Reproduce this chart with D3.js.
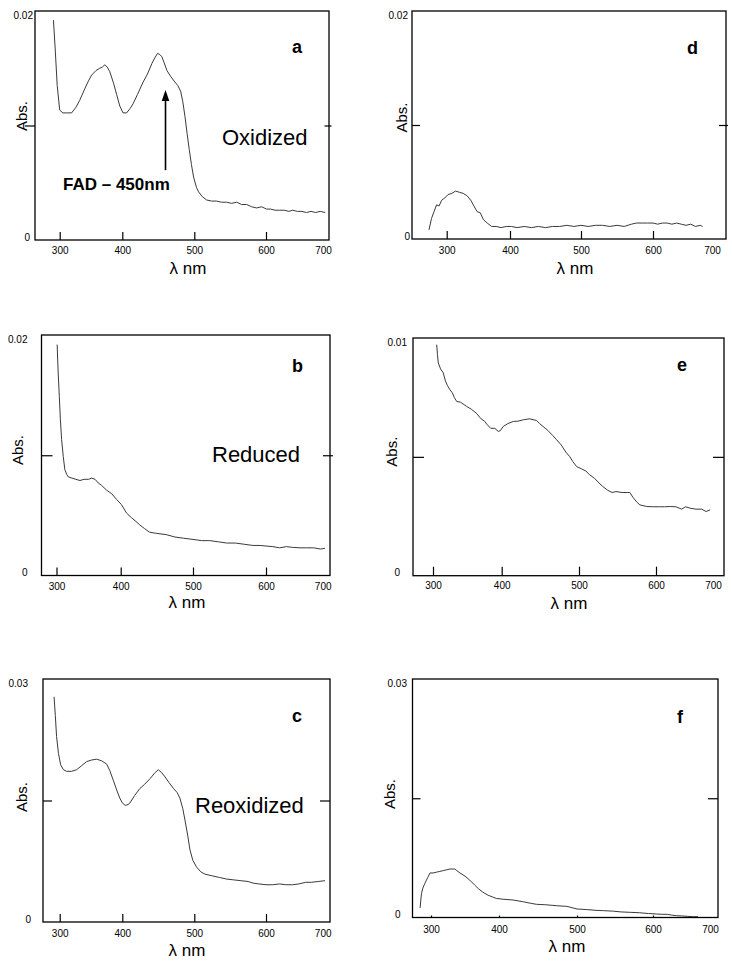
<!DOCTYPE html>
<html>
<head>
<meta charset="utf-8">
<script src="https://cdn.jsdelivr.net/npm/d3@7"></script>
<style>
  html, body { margin: 0; padding: 0; background: #fff; }
  svg { display: block; }
</style>
</head>
<body>
<script>
// ---------------- DATA ----------------
const wlTicks = [300, 400, 500, 600, 700];
const xTickMarks = [300, 400, 500, 600];

// Panel a: Oxidized
const aWl  = [290,293,296,300,305,311,319,326,332,340,346,351,358,364,368,372,376,380,386,391,396,401,406,411,415,421,429,435,441,445,449,452,455,458,462,467,473,477,481,484,487,490,493,496,499,503,506,511,517,524,531,538,545,552,559,566,573,580,587,594,601,608,616,624,632,640,647,655,663,671,679,687,695,704];
const aAbs = [0.0192,0.0165,0.0135,0.01135,0.0111,0.0111,0.0111,0.0116,0.0122,0.0132,0.0139,0.0144,0.0148,0.0150,0.0151,0.0153,0.0151,0.0147,0.0137,0.0127,0.0117,0.0111,0.0111,0.0115,0.0119,0.0127,0.0138,0.0145,0.0154,0.0159,0.0163,0.0162,0.0160,0.0155,0.0148,0.0143,0.0138,0.0135,0.0130,0.0121,0.0108,0.0093,0.0079,0.0066,0.0055,0.0046,0.0042,0.0038,0.0035,0.0034,0.0034,0.0033,0.0033,0.0032,0.0033,0.0031,0.0031,0.0029,0.0028,0.0029,0.0027,0.0027,0.0026,0.0026,0.0026,0.0025,0.0026,0.0025,0.0025,0.0024,0.0025,0.0024,0.0025,0.0024];

// Panel b: Reduced
const bWl  = [301,302.5,304.4,306,308,310.5,313,316,318.4,324,330,336.6,343,350,355,360,365,370,378,386,394,401,408,415,421,426.5,433,440,450,463,475,487,500,512,523,535,546,558,570,582,592,600,612,624,636,647,660,672,684,696,704];
const bAbs = [0.0192,0.0170,0.0149,0.0130,0.0113,0.0099,0.0088,0.0084,0.0082,0.0081,0.0080,0.0079,0.0080,0.0080,0.0081,0.0080,0.0077,0.0075,0.0071,0.0068,0.0063,0.0059,0.0052,0.0048,0.0045,0.0042,0.0039,0.0036,0.0035,0.0034,0.0032,0.0031,0.0030,0.0029,0.0029,0.0028,0.0027,0.0027,0.0026,0.0025,0.0025,0.00245,0.0024,0.0023,0.0024,0.00234,0.0023,0.0023,0.0023,0.0022,0.00226];

// Panel c: Reoxidized
const cWl  = [291,293,295,298,301.6,306,311,319,327,335,343,351,359,367,375,380,385.6,391,396,400,404,408,410.6,417,424.6,431,438.6,445,450,455,459.5,465,471,476,480,484,487,491,494,498,503,509,515,525,535,545,555,565,575,582,590,600,612,624,635,647,658,670,680,692,704];
const cAbs = [0.0278,0.0255,0.0229,0.0208,0.0194,0.0188,0.0186,0.0186,0.0188,0.0193,0.0198,0.0200,0.0201,0.0199,0.0195,0.0187,0.0175,0.0163,0.0153,0.0147,0.0144,0.0145,0.0147,0.0156,0.0165,0.0170,0.0177,0.0184,0.0188,0.0184,0.0179,0.0172,0.0165,0.0160,0.0153,0.0140,0.0126,0.0106,0.0089,0.0076,0.0068,0.0062,0.0059,0.0057,0.0055,0.0053,0.0052,0.0051,0.0050,0.0048,0.0047,0.0046,0.0046,0.0047,0.0046,0.0046,0.0047,0.0049,0.0049,0.0050,0.0051];

// Panel d
const dWl  = [272,276,280,284,288,292,297,302,308,314,320,326,332,338,343,348,353,358,364,371,378,386,394,402,410,420,430,440,450,460,470,480,490,500,510,520,530,540,550,560,570,577,585,592,600,608,616,624,632,640,648,656,664,672,680,684];
const dAbs = [0.0008,0.0018,0.0024,0.0030,0.0029,0.0034,0.0036,0.0039,0.0040,0.0042,0.0041,0.0040,0.0038,0.0034,0.0029,0.0024,0.0023,0.0017,0.0014,0.0011,0.0011,0.0010,0.0011,0.0011,0.0010,0.0011,0.0010,0.0011,0.0010,0.0011,0.0011,0.0012,0.0011,0.0012,0.0011,0.0012,0.0012,0.0011,0.0012,0.0011,0.0013,0.0014,0.0014,0.0014,0.0014,0.0013,0.0014,0.0014,0.0013,0.0014,0.0013,0.0012,0.0013,0.0011,0.0012,0.0011];

// Panel e
const eWl  = [305.4,306.5,307.7,311,315,318,321,324.7,328,331,334.5,340,345,349,356,363,370,375,379,384,390,395,398,402,408,415,421,428,436,445,449,453.5,460,466,471,477,483,488,492,497,503,509,514,520,526,531,537,543,548,556,563,566,570,575,579,588,597,606,615,625,635,645,652,660,670,680,688,695];
const eAbs = [0.00972,0.0093,0.00895,0.0087,0.00853,0.0082,0.0080,0.00782,0.0077,0.0075,0.00733,0.0073,0.0072,0.00712,0.0070,0.00684,0.0066,0.0065,0.00635,0.0062,0.0062,0.00607,0.0061,0.00628,0.0064,0.00649,0.0065,0.00656,0.0066,0.00653,0.0064,0.00628,0.0061,0.0059,0.00572,0.0055,0.0052,0.00501,0.0048,0.00459,0.0045,0.0044,0.00424,0.0041,0.0039,0.00375,0.0036,0.0035,0.00354,0.0035,0.0035,0.0035,0.0033,0.0031,0.00298,0.00291,0.0029,0.0029,0.0029,0.00291,0.0029,0.0028,0.0029,0.00284,0.0028,0.0028,0.0027,0.00277];

// Panel f
const fWl  = [284,285,286,288,291,295,298.5,303,308,313,318,323,328,335,338,342.6,350,357,364,370,376,384,390,396,405,418,430,440,448,460,474,487,500,512,525,535,547,558,570,582,594,606,616,625,633,641,650,660,670,679];
const fAbs = [0.0012,0.0022,0.0030,0.0037,0.0043,0.0050,0.0056,0.0056,0.0057,0.0058,0.0059,0.0060,0.0061,0.0061,0.0059,0.0056,0.0052,0.0047,0.0041,0.0036,0.0032,0.0028,0.0026,0.0024,0.0023,0.0022,0.0020,0.0018,0.00166,0.0016,0.00148,0.0014,0.00107,0.0010,0.0009,0.00086,0.0008,0.0007,0.00065,0.0006,0.0005,0.00044,0.0004,0.0004,0.0003,0.00023,0.0002,0.00015,0.0001,0.0001];

const yMaxes = { a: 0.02, b: 0.02, c: 0.03, d: 0.02, e: 0.01, f: 0.03 };
const stateLabels = { a: "Oxidized", b: "Reduced", c: "Reoxidized" };
const yLabel = "Abs.";
const xLabel = "λ nm";
const annotation = "FAD – 450nm";

// ---------------- LAYOUT ----------------
const FONT = "Arial, 'Liberation Sans', Helvetica, sans-serif";
const panels = [
  { key: "a", wl: aWl, ab: aAbs, box: [35, 11, 329, 240], xPos: [59.7, 122.3, 194.3, 266, 323],
    xTick: 8, xPad: 7, yPadTop: 2, yPadZero: 5, midL: [-10, 10], midR: [2.5, 7],
    absPos: [27, 116], xlPos: [188, 274], letterPos: [292, 53], statePos: [222, 145] },
  { key: "d", wl: dWl, ab: dAbs, box: [412, 11, 726, 239], xPos: [446.7, 510, 581, 653, 712],
    xTick: 8, xPad: 8, yPadTop: 4, yPadZero: 2, midL: [0, 8], midR: [2, 9],
    absPos: [407, 117.5], xlPos: [575, 273.5], letterPos: [687, 54] },
  { key: "b", wl: bWl, ab: bAbs, box: [41.5, 335, 330, 575.5], xPos: [56.5, 120.7, 193, 266, 322.7],
    xTick: 8, xPad: 7, yPadTop: 14, yPadZero: 14, midL: [0, 11], midR: [3, 10],
    absPos: [23.3, 450], xlPos: [187, 608], letterPos: [292, 371.7], statePos: [212, 461.7] },
  { key: "e", wl: eWl, ab: eAbs, box: [413, 338, 724, 575.7], xPos: [433, 501.7, 579, 656, 713],
    xTick: 9, xPad: 6.5, yPadTop: 6, yPadZero: 13, midL: [0, 11], midR: [0, 11],
    absPos: [397, 451.7], xlPos: [569, 609], letterPos: [677, 370.7] },
  { key: "c", wl: cWl, ab: cAbs, box: [43, 679, 330, 922], xPos: [59.7, 122.3, 194.3, 266, 322.7],
    xTick: 8, xPad: 8, yPadTop: 15, yPadZero: 12, midL: [0, 9], midR: [0, 10],
    absPos: [26.7, 797], xlPos: [187, 956], letterPos: [292, 721.7], statePos: [195, 813] },
  { key: "f", wl: fWl, ab: fAbs, box: [412.5, 679, 718, 917.5], xPos: [431, 499, 577, 653, 710],
    xTick: 2, xPad: 8, yPadTop: 5.5, yPadZero: 12, midL: [0, 8], midR: [0, 10],
    absPos: [395, 794], xlPos: [567, 951.5], letterPos: [677, 722.7] }
];

const svg = d3.select("body").append("svg")
  .attr("width", 732).attr("height", 968)
  .attr("font-family", FONT);

const styleAxis = sel => {
  sel.attr("font-family", FONT);
  sel.select(".domain").remove();
  sel.selectAll("line").attr("stroke", "#000").attr("stroke-width", 1.2);
  sel.selectAll("text").attr("fill", "#000");
};

panels.forEach(p => {
  const [L, T, R, B] = p.box;
  const x = d3.scaleLinear().domain(wlTicks).range(p.xPos);
  const yMax = yMaxes[p.key];
  const y = d3.scaleLinear().domain([0, yMax]).range([B, T]);
  const g = svg.append("g");

  // spectrum
  g.append("path")
    .datum(d3.zip(p.wl, p.ab))
    .attr("d", d3.line().x(d => x(d[0])).y(d => y(d[1])))
    .attr("fill", "none")
    .attr("stroke", "#3a3a3a")
    .attr("stroke-width", 1)
    .attr("stroke-linejoin", "round");

  // frame
  g.append("rect")
    .attr("x", L).attr("y", T).attr("width", R - L).attr("height", B - T)
    .attr("fill", "none").attr("stroke", "#000").attr("stroke-width", 1.3);

  // x tick marks (inside)
  g.append("g").attr("transform", `translate(0,${B})`)
    .call(d3.axisBottom(x).tickValues(xTickMarks).tickSize(-p.xTick).tickFormat(""))
    .call(styleAxis);

  // x tick labels
  g.append("g").attr("transform", `translate(0,${B})`)
    .call(d3.axisBottom(x).tickValues(wlTicks).tickSize(0).tickPadding(p.xPad).tickFormat(d3.format("d")))
    .call(styleAxis)
    .selectAll("text").attr("font-size", 10);

  // y labels (0 and max)
  const yl = g.append("g").attr("transform", `translate(${L},0)`)
    .call(d3.axisLeft(y).tickValues([0, yMax]).tickSize(0)
      .tickFormat(d => d ? d3.format(".2f")(d) : "0"))
    .call(styleAxis);
  yl.selectAll("text")
    .attr("font-size", 10)
    .attr("x", d => -(d ? p.yPadTop : p.yPadZero))
    .attr("dy", d => d ? "0.71em" : "0em");

  // middle y ticks (left and right)
  g.append("g").attr("transform", `translate(${L + p.midL[0]},0)`)
    .call(d3.axisRight(y).tickValues([yMax / 2]).tickSize(p.midL[1]).tickFormat(""))
    .call(styleAxis);
  g.append("g").attr("transform", `translate(${R + p.midR[0]},0)`)
    .call(d3.axisLeft(y).tickValues([yMax / 2]).tickSize(p.midR[1]).tickFormat(""))
    .call(styleAxis);

  // axis titles
  g.append("text")
    .attr("transform", `translate(${p.absPos[0]},${p.absPos[1]}) rotate(-90)`)
    .attr("text-anchor", "middle").attr("font-size", 15).attr("fill", "#000")
    .text(yLabel);
  g.append("text")
    .attr("x", p.xlPos[0]).attr("y", p.xlPos[1])
    .attr("text-anchor", "middle").attr("font-size", 17).attr("fill", "#000")
    .text(xLabel);

  // panel letter
  g.append("text")
    .attr("x", p.letterPos[0]).attr("y", p.letterPos[1])
    .attr("font-size", 18).attr("font-weight", "bold").attr("fill", "#000")
    .text(p.key);

  // state label
  if (stateLabels[p.key]) {
    g.append("text")
      .attr("x", p.statePos[0]).attr("y", p.statePos[1])
      .attr("font-size", 22).attr("fill", "#000")
      .text(stateLabels[p.key]);
  }

  // FAD annotation with arrow in panel a
  if (p.key === "a") {
    const ax = x(460);
    const yTip = y(0.0131), yTail = y(0.0061);
    g.append("line")
      .attr("x1", ax).attr("x2", ax).attr("y1", yTip + 8).attr("y2", yTail)
      .attr("stroke", "#000").attr("stroke-width", 1.6);
    g.append("path")
      .attr("d", `M${ax},${yTip} L${ax - 3.8},${yTip + 11} L${ax + 3.8},${yTip + 11} Z`)
      .attr("fill", "#000");
    g.append("text")
      .attr("x", 63).attr("y", 190)
      .attr("font-size", 17).attr("font-weight", "bold").attr("fill", "#000")
      .text(annotation);
  }
});
</script>
</body>
</html>
